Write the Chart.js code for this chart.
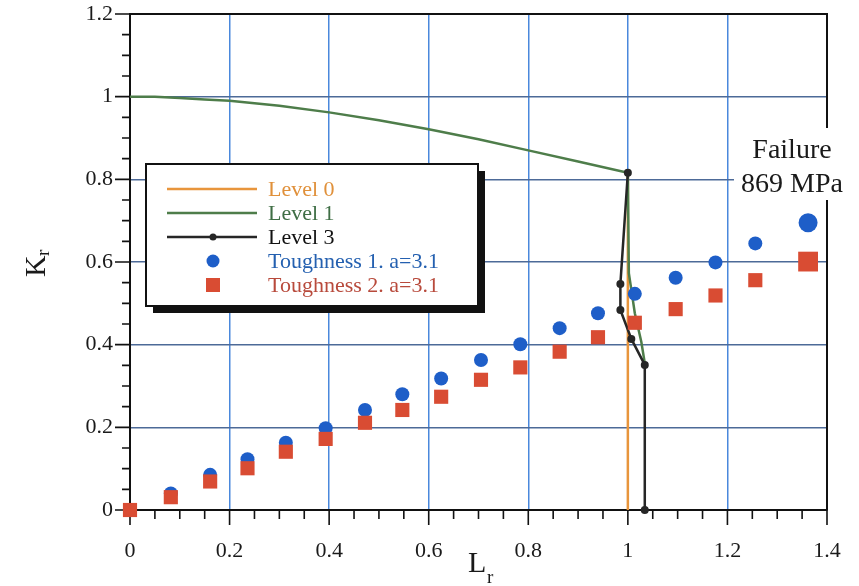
<!DOCTYPE html>
<html>
<head>
<meta charset="utf-8">
<script src="https://cdn.jsdelivr.net/npm/chart.js@4/dist/chart.umd.min.js"></script>
<style>
  html, body { margin: 0; padding: 0; background: #fff; }
  canvas { display: block; }
</style>
</head>
<body>
<canvas id="fad" width="859" height="586"></canvas>
<script>
// Failure assessment diagram: Kr versus Lr
const xTickLabels = ['0', '0.2', '0.4', '0.6', '0.8', '1', '1.2', '1.4'];
const yTickLabels = ['0', '0.2', '0.4', '0.6', '0.8', '1', '1.2'];

// Level 0 cut-off at Lr = 1
const lrLevel0 = [1.0, 1.0];
const krLevel0 = [0, 0.816];

// Level 1 assessment line
const lrLevel1 = [0, 0.05, 0.1, 0.15, 0.2, 0.3, 0.4, 0.5, 0.6, 0.7, 0.8, 0.9, 1.0, 1.002, 1.014, 1.027, 1.034];
const krLevel1 = [1.0, 1.0, 0.997, 0.993, 0.99, 0.978, 0.962, 0.943, 0.921, 0.897, 0.870, 0.843, 0.816, 0.573, 0.476, 0.407, 0.355];

// Level 3 assessment line
const lrLevel3 = [1.0, 0.985, 0.985, 1.007, 1.034, 1.034];
const krLevel3 = [0.816, 0.547, 0.484, 0.414, 0.351, 0];

// Assessment points, toughness 1 (a = 3.1)
const lrTough1 = [0, 0.082, 0.161, 0.236, 0.313, 0.393, 0.472, 0.547, 0.625, 0.705, 0.784, 0.863, 0.940, 1.014, 1.096, 1.176, 1.256, 1.362];
const krTough1 = [0, 0.040, 0.085, 0.123, 0.163, 0.198, 0.242, 0.280, 0.318, 0.363, 0.401, 0.440, 0.476, 0.523, 0.562, 0.599, 0.645, 0.695];

// Assessment points, toughness 2 (a = 3.1)
const lrTough2 = [0, 0.082, 0.161, 0.236, 0.313, 0.393, 0.472, 0.547, 0.625, 0.705, 0.784, 0.863, 0.940, 1.014, 1.096, 1.176, 1.256, 1.362];
const krTough2 = [0, 0.031, 0.069, 0.101, 0.141, 0.172, 0.211, 0.242, 0.274, 0.315, 0.345, 0.383, 0.418, 0.453, 0.486, 0.519, 0.556, 0.601];

const pts = (xs, ys) => xs.map((x, i) => ({ x: x, y: ys[i] }));

const SERIF = "'Liberation Serif', 'DejaVu Serif', serif";
const C_ORANGE = '#e8953c';
const C_GREEN = '#4e7d4a';
const C_BLACK = '#262626';
const C_BLUE = '#1e5ec8';
const C_RED = '#d94c33';

const X_MAX = 1.4, Y_MAX = 1.2, MINOR = 0.05;

function labelFor(list, step) {
  return function (value) {
    const i = Math.round(value / step);
    return Math.abs(value - i * step) < 1e-6 ? (list[i] ?? '') : '';
  };
}

// fixed axis band sizes; the page padding alone sets the plot margins
function fixBand(prop, size) {
  return function (s) {
    s[prop] = size;
    s.paddingTop = 0; s.paddingBottom = 0; s.paddingLeft = 0; s.paddingRight = 0;
  };
}

const decorations = {
  id: 'decorations',
  beforeDatasetsDraw(chart) {
    const { ctx, chartArea: a, scales } = chart;
    const xs = scales.x, ys = scales.y;
    ctx.save();
    // top and right frame
    ctx.strokeStyle = '#111';
    ctx.lineWidth = 2;
    ctx.beginPath();
    ctx.moveTo(a.left - 1, a.top);
    ctx.lineTo(a.right, a.top);
    ctx.lineTo(a.right, a.bottom);
    ctx.stroke();
    // outward tick marks, major and minor
    ctx.lineWidth = 1.6;
    ctx.beginPath();
    const nx = Math.round(X_MAX / MINOR);
    for (let i = 0; i <= nx; i++) {
      const px = xs.getPixelForValue(i * MINOR);
      const len = i % 4 === 0 ? 15 : 9;
      ctx.moveTo(px, a.bottom);
      ctx.lineTo(px, a.bottom + len);
    }
    const ny = Math.round(Y_MAX / MINOR);
    for (let i = 0; i <= ny; i++) {
      const py = ys.getPixelForValue(i * MINOR);
      const len = i % 4 === 0 ? 15 : 8;
      ctx.moveTo(a.left, py);
      ctx.lineTo(a.left - len, py);
    }
    ctx.stroke();
    ctx.restore();
  },
  afterDatasetsDraw(chart) {
    const { ctx } = chart;
    ctx.save();

    // legend box with drop shadow
    const bx = 146, by = 164, bw = 332, bh = 142;
    ctx.fillStyle = '#111';
    ctx.fillRect(bx + 7, by + 7, bw, bh);
    ctx.fillStyle = '#fff';
    ctx.fillRect(bx, by, bw, bh);
    ctx.strokeStyle = '#111';
    ctx.lineWidth = 2;
    ctx.strokeRect(bx, by, bw, bh);

    const rows = [
      { text: 'Level 0', color: '#e0903a', kind: 'line', stroke: C_ORANGE },
      { text: 'Level 1', color: '#3f6e45', kind: 'line', stroke: C_GREEN },
      { text: 'Level 3', color: '#111', kind: 'linedot', stroke: C_BLACK },
      { text: 'Toughness 1. a=3.1', color: '#2460b0', kind: 'circle', stroke: C_BLUE },
      { text: 'Toughness 2. a=3.1', color: '#b84a3c', kind: 'square', stroke: C_RED }
    ];
    const rowY = [189, 213, 237, 261, 285];
    ctx.font = '22px ' + SERIF;
    ctx.textBaseline = 'middle';
    ctx.textAlign = 'left';
    rows.forEach((r, i) => {
      const y = rowY[i];
      if (r.kind === 'line' || r.kind === 'linedot') {
        ctx.strokeStyle = r.stroke;
        ctx.lineWidth = 2.5;
        ctx.beginPath();
        ctx.moveTo(167, y);
        ctx.lineTo(257, y);
        ctx.stroke();
        if (r.kind === 'linedot') {
          ctx.fillStyle = r.stroke;
          ctx.beginPath();
          ctx.arc(213, y, 3.5, 0, Math.PI * 2);
          ctx.fill();
        }
      } else if (r.kind === 'circle') {
        ctx.fillStyle = r.stroke;
        ctx.beginPath();
        ctx.arc(213, y, 6.5, 0, Math.PI * 2);
        ctx.fill();
      } else {
        ctx.fillStyle = r.stroke;
        ctx.fillRect(206, y - 7, 14, 14);
      }
      ctx.fillStyle = r.color;
      ctx.fillText(r.text, 268, y + 1);
    });

    // failure annotation
    ctx.fillStyle = '#fff';
    ctx.fillRect(734, 128, 116, 72);
    ctx.fillStyle = '#1a1a1a';
    ctx.font = '28px ' + SERIF;
    ctx.textAlign = 'center';
    ctx.textBaseline = 'alphabetic';
    ctx.fillText('Failure', 792, 158);
    ctx.fillText('869 MPa', 792, 192);

    // axis titles with subscripts
    ctx.textAlign = 'left';
    ctx.font = '30px ' + SERIF;
    ctx.fillText('L', 468, 572);
    ctx.font = '19px ' + SERIF;
    ctx.fillText('r', 487, 583);

    ctx.save();
    ctx.translate(45, 277);
    ctx.rotate(-Math.PI / 2);
    ctx.font = '30px ' + SERIF;
    ctx.fillText('K', 0, 0);
    ctx.font = '19px ' + SERIF;
    ctx.fillText('r', 21, 4);
    ctx.restore();

    ctx.restore();
  }
};

const gridColor = (edgeMax, color) => (c) => {
  const v = c.tick ? c.tick.value : 0;
  return (Math.abs(v) < 1e-6 || Math.abs(v - edgeMax) < 1e-6) ? 'rgba(0,0,0,0)' : color;
};

new Chart(document.getElementById('fad'), {
  type: 'scatter',
  data: {
    datasets: [
      {
        label: 'Toughness 2. a=3.1',
        data: pts(lrTough2, krTough2),
        showLine: false,
        pointStyle: 'rect',
        pointRadius: (c) => c.dataIndex === krTough2.length - 1 ? 14 : 10,
        backgroundColor: C_RED,
        borderColor: C_RED,
        borderWidth: 0,
        clip: false
      },
      {
        label: 'Toughness 1. a=3.1',
        data: pts(lrTough1, krTough1),
        showLine: false,
        pointStyle: 'circle',
        pointRadius: (c) => c.dataIndex === krTough1.length - 1 ? 9.5 : 7,
        backgroundColor: C_BLUE,
        borderColor: C_BLUE,
        borderWidth: 0,
        clip: false
      },
      {
        label: 'Level 3',
        data: pts(lrLevel3, krLevel3),
        showLine: true,
        borderColor: C_BLACK,
        borderWidth: 2.5,
        pointRadius: 4,
        pointBackgroundColor: C_BLACK,
        pointBorderWidth: 0,
        clip: false
      },
      {
        label: 'Level 1',
        data: pts(lrLevel1, krLevel1),
        showLine: true,
        borderColor: C_GREEN,
        borderWidth: 2.5,
        pointRadius: 0
      },
      {
        label: 'Level 0',
        data: pts(lrLevel0, krLevel0),
        showLine: true,
        borderColor: C_ORANGE,
        borderWidth: 2.5,
        pointRadius: 0
      }
    ]
  },
  options: {
    responsive: false,
    animation: false,
    devicePixelRatio: 1,
    layout: { padding: { left: 0, right: 32, top: 14, bottom: 0 } },
    plugins: { legend: { display: false }, tooltip: { enabled: false } },
    scales: {
      x: {
        type: 'linear',
        min: 0,
        max: X_MAX,
        afterFit: fixBand('height', 76),
        border: { display: true, color: '#111', width: 2 },
        grid: { drawTicks: false, lineWidth: 1.5, color: gridColor(X_MAX, '#4a88dc') },
        ticks: {
          stepSize: 0.2,
          padding: 28,
          maxRotation: 0,
          autoSkip: false,
          color: '#1a1a1a',
          font: { family: SERIF, size: 22 },
          callback: labelFor(xTickLabels, 0.2)
        }
      },
      y: {
        type: 'linear',
        min: 0,
        max: Y_MAX,
        afterFit: fixBand('width', 130),
        border: { display: true, color: '#111', width: 2 },
        grid: { drawTicks: false, lineWidth: 1.5, color: gridColor(Y_MAX, '#4d6a98') },
        ticks: {
          stepSize: 0.2,
          padding: 17,
          autoSkip: false,
          color: '#1a1a1a',
          font: { family: SERIF, size: 22 },
          callback: labelFor(yTickLabels, 0.2)
        }
      }
    }
  },
  plugins: [decorations]
});
</script>
</body>
</html>
